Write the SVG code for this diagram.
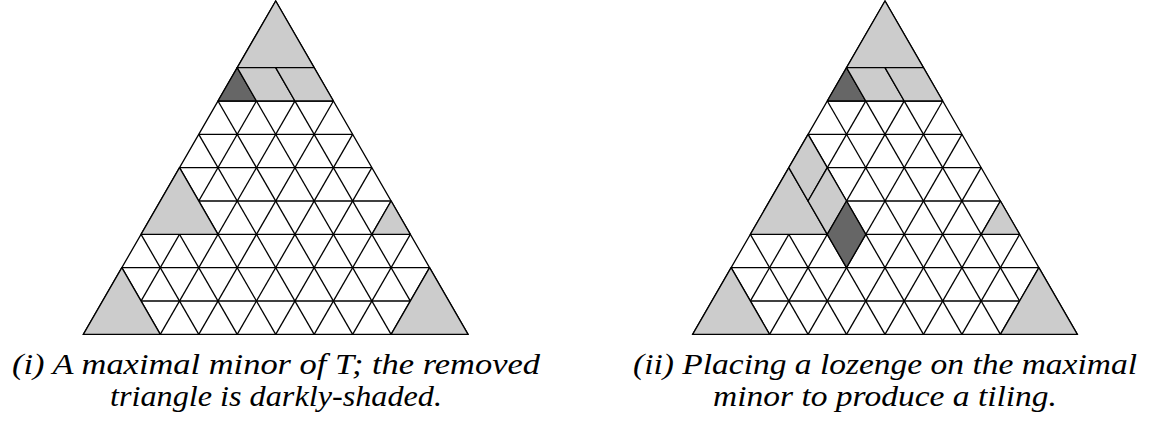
<svg xmlns="http://www.w3.org/2000/svg" width="1153" height="423" viewBox="0 0 1153 423">
<style>
.grid line{stroke:#000;stroke-width:1.3;}
.outer{fill:#fff;stroke:#000;stroke-width:1.3;stroke-linejoin:miter;}
.light{fill:#cccccc;stroke:#000;stroke-width:1.3;stroke-linejoin:round;}
.dark{fill:#666666;stroke:#000;stroke-width:1.3;stroke-linejoin:round;}
.cap{font-family:"Liberation Serif","DejaVu Serif",serif;font-style:italic;font-size:29px;fill:#000;}
</style>
<defs>
<g id="grid" class="grid">
<polygon class="outer" points="0,0 -192.35,333.33 192.35,333.33"/>
<line x1="19.24" y1="33.33" x2="-153.88" y2="333.33"/>
<line x1="38.47" y1="66.67" x2="-115.41" y2="333.33"/>
<line x1="57.71" y1="100" x2="-76.94" y2="333.33"/>
<line x1="76.94" y1="133.33" x2="-38.47" y2="333.33"/>
<line x1="96.18" y1="166.67" x2="0" y2="333.33"/>
<line x1="115.41" y1="200" x2="38.47" y2="333.33"/>
<line x1="134.65" y1="233.33" x2="76.94" y2="333.33"/>
<line x1="153.88" y1="266.67" x2="115.41" y2="333.33"/>
<line x1="173.12" y1="300" x2="153.88" y2="333.33"/>
<line x1="-19.24" y1="33.33" x2="153.88" y2="333.33"/>
<line x1="-38.47" y1="66.67" x2="115.41" y2="333.33"/>
<line x1="-57.71" y1="100" x2="76.94" y2="333.33"/>
<line x1="-76.94" y1="133.33" x2="38.47" y2="333.33"/>
<line x1="-96.18" y1="166.67" x2="0" y2="333.33"/>
<line x1="-115.41" y1="200" x2="-38.47" y2="333.33"/>
<line x1="-134.65" y1="233.33" x2="-76.94" y2="333.33"/>
<line x1="-153.88" y1="266.67" x2="-115.41" y2="333.33"/>
<line x1="-173.12" y1="300" x2="-153.88" y2="333.33"/>
<line x1="-19.24" y1="33.33" x2="19.24" y2="33.33"/>
<line x1="-38.47" y1="66.67" x2="38.47" y2="66.67"/>
<line x1="-57.71" y1="100" x2="57.71" y2="100"/>
<line x1="-76.94" y1="133.33" x2="76.94" y2="133.33"/>
<line x1="-96.18" y1="166.67" x2="96.18" y2="166.67"/>
<line x1="-115.41" y1="200" x2="115.41" y2="200"/>
<line x1="-134.65" y1="233.33" x2="134.65" y2="233.33"/>
<line x1="-153.88" y1="266.67" x2="153.88" y2="266.67"/>
<line x1="-173.12" y1="300" x2="173.12" y2="300"/>
</g>
<g id="common">
<polygon class="light" points="0,0 -38.47,66.67 38.47,66.67"/>
<polygon class="dark" points="-38.47,66.67 -57.71,100 -19.24,100"/>
<polygon class="light" points="-38.47,66.67 0,66.67 19.24,100 -19.24,100"/>
<polygon class="light" points="0,66.67 38.47,66.67 57.71,100 19.24,100"/>
<polygon class="light" points="-96.18,166.67 -134.65,233.33 -57.71,233.33"/>
<polygon class="light" points="-153.88,266.67 -192.35,333.33 -115.41,333.33"/>
<polygon class="light" points="115.41,200 96.18,233.33 134.65,233.33"/>
<polygon class="light" points="153.88,266.67 115.41,333.33 192.35,333.33"/>
</g>
</defs>
<g id="triangle-i" transform="translate(275.7,1)">
<use href="#grid"/>
<use href="#common"/>
</g>
<g id="triangle-ii" transform="translate(885,1)">
<use href="#grid"/>
<use href="#common"/>
<polygon class="light" points="-76.94,133.33 -96.18,166.67 -76.94,200 -57.71,166.67"/>
<polygon class="light" points="-57.71,166.67 -76.94,200 -57.71,233.33 -38.47,200"/>
<polygon class="dark" points="-38.47,200 -57.71,233.33 -38.47,266.67 -19.24,233.33"/>
</g>
<g id="caption-i">
<text class="cap" x="276" y="374" text-anchor="middle" textLength="528" lengthAdjust="spacingAndGlyphs">(i) A maximal minor of T; the removed</text>
<text class="cap" x="276" y="406" text-anchor="middle" textLength="332" lengthAdjust="spacingAndGlyphs">triangle is darkly-shaded.</text>
</g>
<g id="caption-ii">
<text class="cap" x="885" y="374" text-anchor="middle" textLength="504" lengthAdjust="spacingAndGlyphs">(ii) Placing a lozenge on the maximal</text>
<text class="cap" x="885" y="406" text-anchor="middle" textLength="344" lengthAdjust="spacingAndGlyphs">minor to produce a tiling.</text>
</g>
</svg>
